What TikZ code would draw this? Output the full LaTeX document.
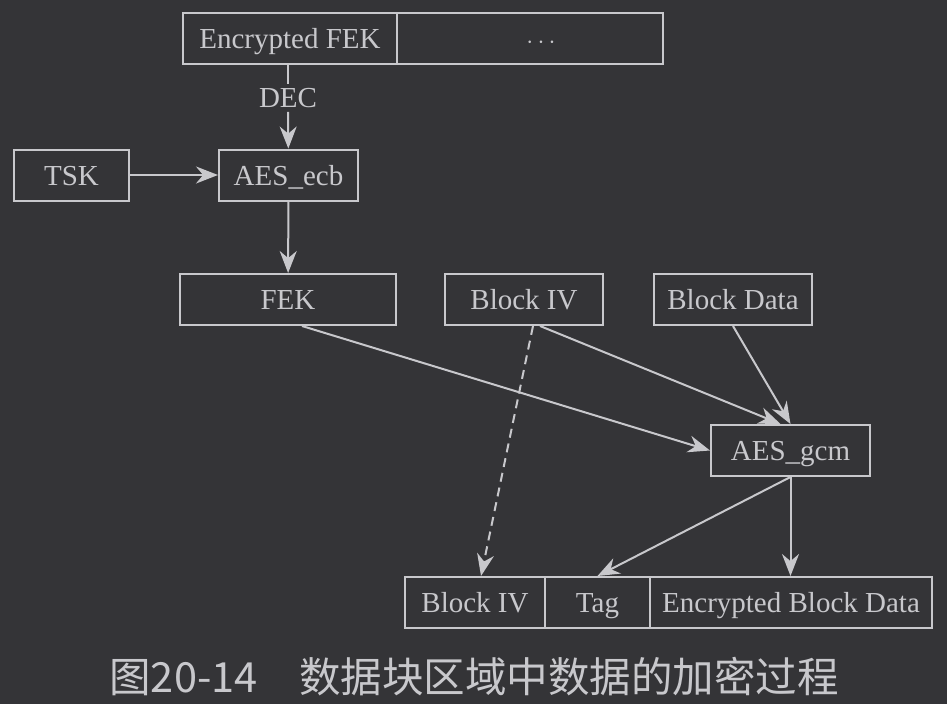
\documentclass[tikz,border=0pt]{standalone}
\usepackage{fontspec}
\setmainfont{Liberation Serif}
\newfontfamily\cjkfont{Noto Sans CJK SC}
\usetikzlibrary{arrows.meta}
\definecolor{bgdark}{RGB}{52,52,55}
\definecolor{inkgray}{RGB}{200,200,204}
\tikzset{
  box/.style={draw=inkgray,line width=2pt,inner sep=0pt,text=inkgray,
    minimum height=51pt,text height=23pt,text depth=3pt,
    font=\fontsize{29}{34}\selectfont},
  flow/.style={draw=inkgray,line width=2pt,-{Stealth[length=22pt,width=17pt]}},
}

\begin{document}
\begin{tikzpicture}[x=1pt,y=-1pt]
  \fill[bgdark] (0,0) rectangle (947,704);
  \useasboundingbox (0,0) rectangle (947,704);
  % header record
  \node[box,minimum width=214pt] (efek) at (290,38.5) {Encrypted FEK};
  \node[box,minimum width=266pt] (rest) at (530,38.5) {\hspace{22pt}$\cdots$};
  \node[text=inkgray,inner sep=4pt,font=\fontsize{29}{34}\selectfont] (dec) at (288,98) {DEC};
  % key unwrap
  \node[box,minimum width=115pt] (tsk) at (71.5,175) {TSK};
  \node[box,minimum width=139pt] (aesecb) at (288.5,175) {AES\_ecb};
  \node[box,minimum width=216pt] (fek) at (288,299.5) {FEK};
  % block inputs
  \node[box,minimum width=158pt] (iv) at (524,299.5) {Block IV};
  \node[box,minimum width=158pt] (data) at (733,299.5) {Block Data};
  \node[box,minimum width=159pt] (aesgcm) at (790.5,450.5) {AES\_gcm};
  % output record
  \node[box,minimum width=140pt] (outiv) at (475,602.5) {Block IV};
  \node[box,minimum width=105pt] (tag) at (597.5,602.5) {Tag};
  \node[box,minimum width=282pt] (encdata) at (791,602.5) {Encrypted Block Data};
  \node[text=inkgray,font=\cjkfont\fontsize{41.5}{48}\selectfont] (caption) at (474,677)
    {图20-14　数据块区域中数据的加密过程};

  \draw[draw=inkgray,line width=2pt] (dec.north |- efek.south) -- (dec.north);
  \draw[flow] (dec) -- (aesecb);
  \draw[flow] (tsk) -- (aesecb);
  \draw[flow] (aesecb) -- (fek);
  \draw[flow] ([xshift=14pt]fek.south) -- (aesgcm.west);
  \draw[flow] ([xshift=16pt]iv.south) -- ([xshift=-10pt]aesgcm.north);
  \draw[flow] (data.south) -- (aesgcm.north);
  \draw[flow,dashed,dash pattern=on 9pt off 6pt] ([xshift=9pt]iv.south) -- ([xshift=6pt]outiv.north);
  \draw[flow] (aesgcm.south) -- (tag.north);
  \draw[flow] (aesgcm.south) -- (aesgcm.south |- encdata.north);
\end{tikzpicture}
\end{document}
